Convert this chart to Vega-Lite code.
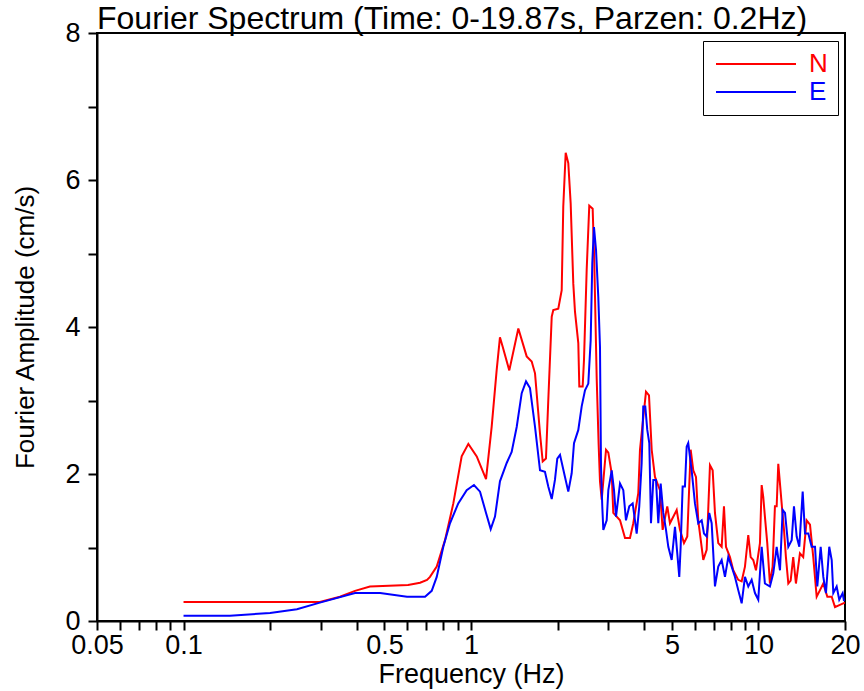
{
"$schema": "https://vega.github.io/schema/vega-lite/v6.json",
"width": 748, "height": 588,
"autosize": {"type": "none"},
"padding": {"left": 97, "top": 33, "right": 19, "bottom": 70},
"background": "white",
"title": {"text": "Fourier Spectrum (Time: 0-19.87s, Parzen: 0.2Hz)", "anchor": "start", "frame": "group", "font": "Liberation Sans", "fontSize": 32, "fontWeight": "normal", "color": "black", "offset": 3, "dy": 20},
"config": {
  "view": {"stroke": "black", "strokeWidth": 2},
  "axis": {"domainColor": "black", "domainWidth": 2, "tickColor": "black", "tickWidth": 2, "tickSize": 9, "grid": false, "labelFont": "Liberation Sans", "labelFontSize": 27, "labelColor": "black", "titleFont": "Liberation Sans", "titleColor": "black", "titleFontWeight": "normal", "labelOverlap": false, "labelFlush": false}
},
"data": {"values": [
{"f":0.1,"a":0.26,"s":"N"},{"f":0.145,"a":0.26,"s":"N"},{"f":0.2,"a":0.26,"s":"N"},{"f":0.298,"a":0.26,"s":"N"},{"f":0.35,"a":0.33,"s":"N"},{"f":0.395,"a":0.41,"s":"N"},{"f":0.445,"a":0.47,"s":"N"},{"f":0.604,"a":0.49,"s":"N"},{"f":0.665,"a":0.52,"s":"N"},{"f":0.703,"a":0.56,"s":"N"},{"f":0.72,"a":0.6,"s":"N"},{"f":0.76,"a":0.74,"s":"N"},{"f":0.812,"a":1.1,"s":"N"},{"f":0.868,"a":1.6,"s":"N"},{"f":0.928,"a":2.24,"s":"N"},{"f":0.979,"a":2.41,"s":"N"},{"f":1.047,"a":2.24,"s":"N"},{"f":1.128,"a":1.93,"s":"N"},{"f":1.18,"a":2.64,"s":"N"},{"f":1.228,"a":3.41,"s":"N"},{"f":1.261,"a":3.86,"s":"N"},{"f":1.289,"a":3.73,"s":"N"},{"f":1.359,"a":3.41,"s":"N"},{"f":1.461,"a":3.98,"s":"N"},{"f":1.562,"a":3.6,"s":"N"},{"f":1.626,"a":3.53,"s":"N"},{"f":1.67,"a":3.37,"s":"N"},{"f":1.738,"a":2.55,"s":"N"},{"f":1.776,"a":2.17,"s":"N"},{"f":1.823,"a":2.21,"s":"N"},{"f":1.857,"a":3.0,"s":"N"},{"f":1.909,"a":4.14,"s":"N"},{"f":1.933,"a":4.23,"s":"N"},{"f":2.012,"a":4.25,"s":"N"},{"f":2.068,"a":4.5,"s":"N"},{"f":2.094,"a":5.64,"s":"N"},{"f":2.135,"a":6.37,"s":"N"},{"f":2.18,"a":6.23,"s":"N"},{"f":2.222,"a":5.68,"s":"N"},{"f":2.269,"a":4.59,"s":"N"},{"f":2.3,"a":4.21,"s":"N"},{"f":2.362,"a":3.78,"s":"N"},{"f":2.381,"a":3.19,"s":"N"},{"f":2.446,"a":3.19,"s":"N"},{"f":2.472,"a":3.55,"s":"N"},{"f":2.526,"a":4.78,"s":"N"},{"f":2.579,"a":5.65,"s":"N"},{"f":2.65,"a":5.61,"s":"N"},{"f":2.685,"a":4.87,"s":"N"},{"f":2.737,"a":3.3,"s":"N"},{"f":2.78,"a":2.4,"s":"N"},{"f":2.81,"a":1.9,"s":"N"},{"f":2.849,"a":1.65,"s":"N"},{"f":2.949,"a":2.33,"s":"N"},{"f":3.004,"a":2.29,"s":"N"},{"f":3.086,"a":2.01,"s":"N"},{"f":3.126,"a":1.47,"s":"N"},{"f":3.299,"a":1.37,"s":"N"},{"f":3.434,"a":1.13,"s":"N"},{"f":3.573,"a":1.13,"s":"N"},{"f":3.669,"a":1.33,"s":"N"},{"f":3.819,"a":1.74,"s":"N"},{"f":3.871,"a":2.33,"s":"N"},{"f":3.956,"a":2.69,"s":"N"},{"f":4.062,"a":3.12,"s":"N"},{"f":4.161,"a":3.07,"s":"N"},{"f":4.252,"a":2.33,"s":"N"},{"f":4.365,"a":1.96,"s":"N"},{"f":4.543,"a":1.78,"s":"N"},{"f":4.642,"a":1.24,"s":"N"},{"f":4.817,"a":1.56,"s":"N"},{"f":4.922,"a":1.33,"s":"N"},{"f":5.194,"a":1.51,"s":"N"},{"f":5.333,"a":1.24,"s":"N"},{"f":5.507,"a":1.06,"s":"N"},{"f":5.654,"a":1.15,"s":"N"},{"f":5.81,"a":2.33,"s":"N"},{"f":5.932,"a":2.05,"s":"N"},{"f":6.062,"a":1.96,"s":"N"},{"f":6.174,"a":1.37,"s":"N"},{"f":6.427,"a":0.83,"s":"N"},{"f":6.604,"a":0.97,"s":"N"},{"f":6.781,"a":2.12,"s":"N"},{"f":6.929,"a":2.05,"s":"N"},{"f":7.058,"a":1.47,"s":"N"},{"f":7.247,"a":1.06,"s":"N"},{"f":7.447,"a":1.01,"s":"N"},{"f":7.586,"a":1.56,"s":"N"},{"f":7.709,"a":1.01,"s":"N"},{"f":7.959,"a":0.87,"s":"N"},{"f":8.172,"a":0.69,"s":"N"},{"f":8.505,"a":0.56,"s":"N"},{"f":8.741,"a":0.54,"s":"N"},{"f":8.975,"a":0.74,"s":"N"},{"f":9.216,"a":1.17,"s":"N"},{"f":9.395,"a":0.87,"s":"N"},{"f":9.592,"a":0.83,"s":"N"},{"f":9.802,"a":0.69,"s":"N"},{"f":10.12,"a":1.06,"s":"N"},{"f":10.26,"a":1.85,"s":"N"},{"f":10.39,"a":1.69,"s":"N"},{"f":10.53,"a":1.42,"s":"N"},{"f":10.73,"a":1.06,"s":"N"},{"f":10.96,"a":0.51,"s":"N"},{"f":11.2,"a":0.74,"s":"N"},{"f":11.41,"a":1.56,"s":"N"},{"f":11.57,"a":1.56,"s":"N"},{"f":11.72,"a":2.14,"s":"N"},{"f":11.88,"a":1.87,"s":"N"},{"f":12.04,"a":1.6,"s":"N"},{"f":12.27,"a":1.24,"s":"N"},{"f":12.46,"a":0.87,"s":"N"},{"f":12.7,"a":0.51,"s":"N"},{"f":12.94,"a":0.55,"s":"N"},{"f":13.21,"a":0.87,"s":"N"},{"f":13.5,"a":0.51,"s":"N"},{"f":13.94,"a":0.92,"s":"N"},{"f":14.31,"a":0.87,"s":"N"},{"f":14.71,"a":1.37,"s":"N"},{"f":15.11,"a":1.31,"s":"N"},{"f":15.51,"a":0.87,"s":"N"},{"f":15.94,"a":0.33,"s":"N"},{"f":16.37,"a":0.42,"s":"N"},{"f":16.81,"a":0.51,"s":"N"},{"f":17.36,"a":0.33,"s":"N"},{"f":17.98,"a":0.33,"s":"N"},{"f":18.46,"a":0.19,"s":"N"},{"f":18.95,"a":0.21,"s":"N"},{"f":19.72,"a":0.24,"s":"N"},{"f":20,"a":0.25,"s":"N"},
{"f":0.1,"a":0.07,"s":"E"},{"f":0.145,"a":0.07,"s":"E"},{"f":0.2,"a":0.11,"s":"E"},{"f":0.248,"a":0.16,"s":"E"},{"f":0.298,"a":0.25,"s":"E"},{"f":0.395,"a":0.38,"s":"E"},{"f":0.483,"a":0.38,"s":"E"},{"f":0.599,"a":0.33,"s":"E"},{"f":0.692,"a":0.33,"s":"E"},{"f":0.73,"a":0.41,"s":"E"},{"f":0.76,"a":0.6,"s":"E"},{"f":0.801,"a":1.01,"s":"E"},{"f":0.845,"a":1.33,"s":"E"},{"f":0.903,"a":1.6,"s":"E"},{"f":0.966,"a":1.78,"s":"E"},{"f":1.024,"a":1.85,"s":"E"},{"f":1.075,"a":1.76,"s":"E"},{"f":1.128,"a":1.47,"s":"E"},{"f":1.171,"a":1.25,"s":"E"},{"f":1.212,"a":1.42,"s":"E"},{"f":1.261,"a":1.9,"s":"E"},{"f":1.331,"a":2.15,"s":"E"},{"f":1.385,"a":2.3,"s":"E"},{"f":1.442,"a":2.64,"s":"E"},{"f":1.501,"a":3.1,"s":"E"},{"f":1.554,"a":3.26,"s":"E"},{"f":1.604,"a":3.17,"s":"E"},{"f":1.67,"a":2.64,"s":"E"},{"f":1.738,"a":2.05,"s":"E"},{"f":1.808,"a":2.03,"s":"E"},{"f":1.857,"a":1.83,"s":"E"},{"f":1.909,"a":1.66,"s":"E"},{"f":1.959,"a":1.92,"s":"E"},{"f":1.996,"a":2.21,"s":"E"},{"f":2.04,"a":2.26,"s":"E"},{"f":2.123,"a":1.96,"s":"E"},{"f":2.18,"a":1.76,"s":"E"},{"f":2.24,"a":2.01,"s":"E"},{"f":2.282,"a":2.42,"s":"E"},{"f":2.362,"a":2.6,"s":"E"},{"f":2.427,"a":2.92,"s":"E"},{"f":2.492,"a":3.14,"s":"E"},{"f":2.559,"a":3.23,"s":"E"},{"f":2.608,"a":3.82,"s":"E"},{"f":2.642,"a":4.87,"s":"E"},{"f":2.678,"a":5.36,"s":"E"},{"f":2.722,"a":5.05,"s":"E"},{"f":2.772,"a":4.41,"s":"E"},{"f":2.81,"a":3.73,"s":"E"},{"f":2.833,"a":2.1,"s":"E"},{"f":2.862,"a":1.56,"s":"E"},{"f":2.886,"a":1.24,"s":"E"},{"f":2.965,"a":1.37,"s":"E"},{"f":3.004,"a":1.78,"s":"E"},{"f":3.086,"a":2.05,"s":"E"},{"f":3.144,"a":1.78,"s":"E"},{"f":3.195,"a":1.42,"s":"E"},{"f":3.299,"a":1.87,"s":"E"},{"f":3.387,"a":1.78,"s":"E"},{"f":3.46,"a":1.37,"s":"E"},{"f":3.553,"a":1.56,"s":"E"},{"f":3.651,"a":1.6,"s":"E"},{"f":3.719,"a":1.37,"s":"E"},{"f":3.77,"a":1.19,"s":"E"},{"f":3.849,"a":1.56,"s":"E"},{"f":3.924,"a":2.15,"s":"E"},{"f":3.974,"a":2.92,"s":"E"},{"f":4.039,"a":2.92,"s":"E"},{"f":4.104,"a":2.6,"s":"E"},{"f":4.171,"a":2.42,"s":"E"},{"f":4.228,"a":1.33,"s":"E"},{"f":4.307,"a":1.92,"s":"E"},{"f":4.401,"a":1.92,"s":"E"},{"f":4.483,"a":1.33,"s":"E"},{"f":4.569,"a":1.87,"s":"E"},{"f":4.666,"a":1.47,"s":"E"},{"f":4.768,"a":1.24,"s":"E"},{"f":4.857,"a":1.01,"s":"E"},{"f":4.99,"a":0.83,"s":"E"},{"f":5.124,"a":1.28,"s":"E"},{"f":5.219,"a":0.92,"s":"E"},{"f":5.303,"a":0.6,"s":"E"},{"f":5.362,"a":1.01,"s":"E"},{"f":5.448,"a":1.83,"s":"E"},{"f":5.55,"a":1.83,"s":"E"},{"f":5.626,"a":2.37,"s":"E"},{"f":5.698,"a":2.42,"s":"E"},{"f":5.856,"a":2.05,"s":"E"},{"f":6.013,"a":1.6,"s":"E"},{"f":6.174,"a":1.33,"s":"E"},{"f":6.346,"a":1.37,"s":"E"},{"f":6.464,"a":1.19,"s":"E"},{"f":6.604,"a":1.15,"s":"E"},{"f":6.742,"a":1.47,"s":"E"},{"f":6.874,"a":1.33,"s":"E"},{"f":6.963,"a":0.92,"s":"E"},{"f":7.058,"a":0.47,"s":"E"},{"f":7.247,"a":0.74,"s":"E"},{"f":7.447,"a":0.83,"s":"E"},{"f":7.647,"a":0.6,"s":"E"},{"f":7.852,"a":0.87,"s":"E"},{"f":8.068,"a":0.74,"s":"E"},{"f":8.285,"a":0.6,"s":"E"},{"f":8.505,"a":0.42,"s":"E"},{"f":8.741,"a":0.24,"s":"E"},{"f":8.975,"a":0.6,"s":"E"},{"f":9.216,"a":0.47,"s":"E"},{"f":9.469,"a":0.56,"s":"E"},{"f":9.723,"a":0.38,"s":"E"},{"f":9.984,"a":0.29,"s":"E"},{"f":10.26,"a":1.01,"s":"E"},{"f":10.53,"a":0.51,"s":"E"},{"f":10.96,"a":0.47,"s":"E"},{"f":11.26,"a":0.65,"s":"E"},{"f":11.57,"a":1.01,"s":"E"},{"f":11.88,"a":0.69,"s":"E"},{"f":12.14,"a":1.51,"s":"E"},{"f":12.37,"a":1.47,"s":"E"},{"f":12.7,"a":1.01,"s":"E"},{"f":13.05,"a":1.1,"s":"E"},{"f":13.29,"a":1.56,"s":"E"},{"f":13.58,"a":1.15,"s":"E"},{"f":13.87,"a":1.01,"s":"E"},{"f":14.25,"a":1.76,"s":"E"},{"f":14.52,"a":1.19,"s":"E"},{"f":14.91,"a":1.19,"s":"E"},{"f":15.31,"a":1.01,"s":"E"},{"f":15.73,"a":1.01,"s":"E"},{"f":16.02,"a":0.47,"s":"E"},{"f":16.46,"a":1.01,"s":"E"},{"f":16.81,"a":0.6,"s":"E"},{"f":17.17,"a":0.38,"s":"E"},{"f":17.63,"a":1.01,"s":"E"},{"f":17.98,"a":0.83,"s":"E"},{"f":18.21,"a":0.38,"s":"E"},{"f":18.71,"a":0.47,"s":"E"},{"f":19.1,"a":0.29,"s":"E"},{"f":19.63,"a":0.38,"s":"E"},{"f":19.84,"a":0.27,"s":"E"}
]},
"mark": {"type": "line", "strokeWidth": 2, "clip": true},
"encoding": {
  "x": {"field": "f", "type": "quantitative", "scale": {"type": "log", "domain": [0.05, 20], "nice": false},
    "axis": {"title": "Frequency (Hz)", "titleFontSize": 27, "titlePadding": 3, "labelPadding": 2,
      "values": [0.05,0.06,0.07,0.08,0.09,0.1,0.2,0.3,0.4,0.5,0.6,0.7,0.8,0.9,1,2,3,4,5,6,7,8,9,10,20],
      "labelExpr": "indexof([0.05,0.1,0.5,1,5,10,20], datum.value) >= 0 ? format(datum.value, '~g') : ''"}},
  "y": {"field": "a", "type": "quantitative", "scale": {"domain": [0, 8], "nice": false},
    "axis": {"title": "Fourier Amplitude (cm/s)", "titleFontSize": 26, "titlePadding": 26, "labelPadding": 8,
      "values": [0,1,2,3,4,5,6,7,8],
      "labelExpr": "datum.value % 2 == 0 ? datum.label : ''"}},
  "color": {"field": "s", "type": "nominal", "sort": ["N", "E"],
    "scale": {"domain": ["N", "E"], "range": ["#ff0000", "#0000ff"]},
    "legend": {"orient": "none", "legendX": 606, "legendY": 8, "title": null,
      "symbolType": "M-4,0H4", "symbolSize": 400, "symbolStrokeWidth": 2, "symbolOffset": 30,
      "labelFont": "Liberation Sans", "labelFontSize": 26, "labelOffset": 40,
      "strokeColor": "black", "fillColor": "white", "padding": 10,
      "encode": {"labels": {"update": {"fill": {"scale": "color", "field": "value"}}}}}}
}
}
